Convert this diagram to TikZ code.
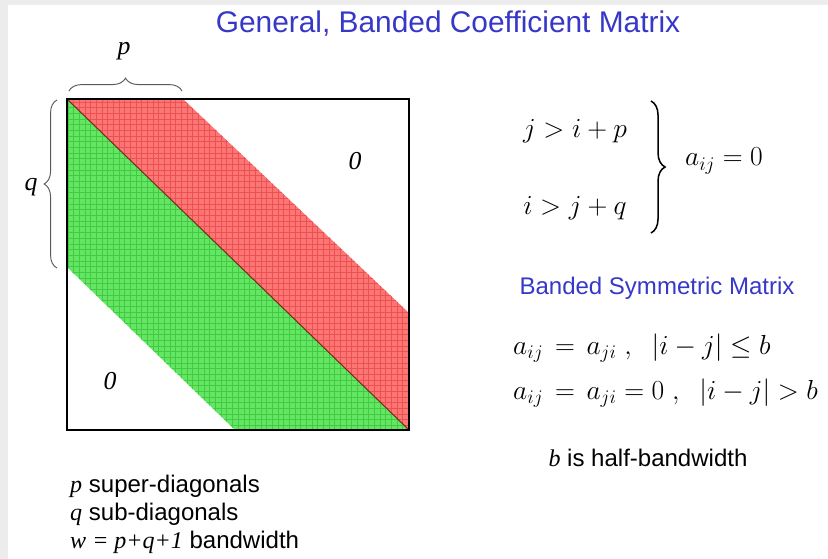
\RequirePackage{fix-cm}
\documentclass[tikz,border=0pt]{standalone}
\usepackage{amsmath}
\usepackage{amssymb}
\usepackage{fontspec}
\setmainfont{Liberation Sans}
\newfontfamily\serifit{Liberation Serif}
\usetikzlibrary{decorations.pathreplacing}

\definecolor{titleblue}{RGB}{55,55,200}
\definecolor{bandred}{RGB}{252,118,118}
\definecolor{gridred}{RGB}{236,80,80}
\definecolor{bandgreen}{RGB}{100,230,100}
\definecolor{gridgreen}{RGB}{66,202,66}
\definecolor{diagline}{RGB}{120,45,30}

\begin{document}
\begin{tikzpicture}[x=0.03cm,y=-0.03cm,
		txt/.style={inner sep=0pt,font=\fontsize{20.5}{24}\selectfont},
		mth/.style={inner sep=0pt,font=\fontsize{23.5}{27}\selectfont},
		lbl/.style={inner sep=0pt,font=\fontsize{22}{26}\selectfont\serifit\itshape},
		smallbrace/.style={decorate,decoration={brace,amplitude=11pt},gray!70!black,line width=0.8pt},
		bigbrace/.style={decorate,decoration={brace,amplitude=12pt},black,line width=1.3pt}]
			\fill[gray!15] (0,0) rectangle (828,559);
			\fill[white] (8,5) rectangle (828,559);
			% band above the diagonal
			\begin{scope}
				\clip (67,99) -- (183,99) -- (409,313) -- (409,430) -- cycle;
				\fill[bandred] (60,95) rectangle (415,435);
				\draw[gridred,line width=0.3pt,step=0.17cm] (60,95) grid (415,435);
			\end{scope}
			% band below the diagonal
			\begin{scope}
				\clip (67,99) -- (409,430) -- (235,430) -- (67,267) -- cycle;
				\fill[bandgreen] (60,95) rectangle (415,435);
				\draw[gridgreen,line width=0.3pt,step=0.17cm] (60,95) grid (415,435);
			\end{scope}
			\draw[diagline,line width=0.9pt] (67,99) -- (409,430);
			\draw[line width=1.6pt] (67,99) rectangle (409,430);
			\node[font=\fontsize{25.5}{30}\selectfont,text=titleblue,inner sep=0pt] (title) at (448,24) {General, Banded Coefficient Matrix};
			% braces
			\coordinate (pa) at (69,91);
			\coordinate (pb) at (182,91);
			\draw[smallbrace] (pa) -- (pb);
			\coordinate (qa) at (57,268);
			\coordinate (qb) at (57,100);
			\draw[smallbrace] (qa) -- (qb);
			\node[lbl] (lblp) at (124,51) {p};
			\node[lbl] (lblq) at (31,187) {q};
			\node[lbl] (zeroup) at (355,161) {0};
			\node[lbl] (zerolow) at (110,381) {0};
			% zero conditions
			\node[mth] (cond1) at (575,131) {$j > i + p$};
			\node[mth] (cond2) at (575,208) {$i > j + q$};
			\coordinate (ca) at (651,101);
			\coordinate (cb) at (651,233);
			\draw[bigbrace] (ca) -- (cb);
			\node[mth] (azero) at (724,161) {$a_{ij} = 0$};
			% symmetric case
			\node[txt,text=titleblue] (symtitle) at (657,288) {Banded Symmetric Matrix};
			\node[mth,anchor=west] (sym) at (513,368) {\renewcommand{\arraystretch}{1.4}$\begin{array}{@{}rcl@{}}
				a_{ij} & = & a_{ji}\;,\;\; |i-j| \le b\\
				a_{ij} & = & a_{ji} = 0\;,\;\; |i-j| > b
			\end{array}$};
			\node[txt] (half) at (648,458) {{\serifit\itshape b} is half-bandwidth};
			\node[txt,anchor=north west,align=left] (notes) at (70,475) {{\serifit\itshape p} super-diagonals\\
				{\serifit\itshape q} sub-diagonals\\
				{\serifit\itshape w = p+q+1} bandwidth};
		\end{tikzpicture}
\end{document}
